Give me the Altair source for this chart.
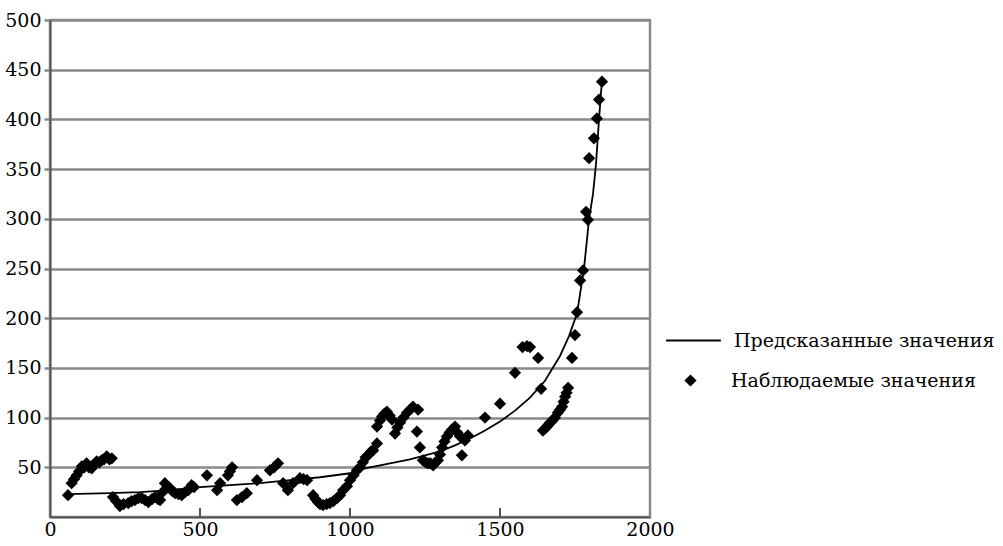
import altair as alt
import pandas as pd

# Observed values (year, value)
obs_year = [60,
    72, 80, 89, 97, 106, 114, 122, 130, 139, 147, 156, 164, 172, 180, 189, 198, 206,
    210, 220, 233, 245, 261, 272, 283, 295, 306, 317, 328, 340, 350, 360, 367, 375, 383, 392,
    400, 408, 417, 428, 439, 450, 461, 472, 480,
    523, 557, 567, 593, 600, 607, 623, 640, 656, 690, 733, 747, 760, 777, 793, 810, 833, 845,
    857, 877, 885, 893, 900, 910, 922, 933, 945, 957, 967, 977, 990, 1000, 1012, 1023, 1033,
    1043, 1052, 1060, 1070, 1077, 1090,
    1090, 1100, 1107, 1115, 1123, 1132, 1140, 1150, 1158, 1167, 1178, 1190, 1200, 1210, 1227,
    1223, 1233, 1243, 1252, 1260, 1268, 1277, 1285, 1293, 1300, 1307, 1315, 1323, 1332, 1340,
    1350, 1358, 1367, 1373, 1383, 1393, 1450, 1500,
    1550, 1575, 1590, 1600, 1627, 1637,
    1643, 1650, 1657, 1662, 1667, 1675, 1683, 1693, 1700, 1707, 1712, 1717, 1722, 1727,
    1740, 1750, 1757, 1767, 1777, 1787, 1793, 1797, 1813, 1823, 1830, 1840]
obs_value = [22,
    34, 38, 42, 46, 51, 50, 54, 50, 49, 53, 56, 55, 57, 58, 61, 58, 59,
    20, 16, 11, 13, 14, 16, 17, 19, 19, 17, 15, 18, 20, 18, 17, 25, 34, 30,
    29, 26, 24, 23, 22, 25, 27, 32, 30,
    42, 27, 34, 42, 46, 50, 17, 20, 24, 37, 47, 50, 54, 34, 27, 34, 39, 38,
    37, 22, 18, 15, 13, 12, 13, 14, 16, 19, 22, 27, 31, 37, 42, 47, 50,
    55, 60, 62, 66, 67, 74,
    91, 97, 101, 104, 106, 102, 98, 84, 90, 95, 100, 105, 108, 111, 108,
    86, 70, 57, 55, 54, 54, 52, 55, 57, 63, 70, 76, 81, 85, 88,
    91, 85, 81, 62, 77, 82, 100, 114,
    145, 171, 172, 171, 160, 129,
    87, 89, 91, 93, 95, 97, 100, 105, 108, 111, 116, 121, 125, 130,
    160, 183, 206, 238, 248, 307, 299, 361, 381, 401, 420, 438]

# Predicted values (year, value)
pred_year = [60, 200, 300, 400, 500, 600, 700, 800, 900, 1000, 1050, 1100, 1150, 1200, 1250,
             1300, 1350, 1400, 1450, 1500, 1550, 1600, 1650, 1700, 1730, 1757, 1780, 1797,
             1810, 1820, 1830, 1840]
pred_value = [23, 24, 25, 27, 30, 32, 34, 37, 40, 44, 49, 52, 55, 58, 62,
              66, 72, 79, 87, 96, 107, 120, 137, 162, 182, 205, 250, 300,
              325, 355, 400, 440]

x_ticks = [0, 500, 1000, 1500, 2000]
inner_ticks = [500, 1000, 1500]
y_ticks = [50, 100, 150, 200, 250, 300, 350, 400, 450, 500]

LINE_NAME = "Предсказанные значения"
OBS_NAME = "Наблюдаемые значения"
FONT = "DejaVu Serif"

obs = pd.DataFrame({"year": obs_year, "value": obs_value, "series": OBS_NAME})
pred = pd.DataFrame({"year": pred_year, "value": pred_value, "series": LINE_NAME})
ticks_df = pd.DataFrame({"year": inner_ticks})

xscale = alt.Scale(domain=[0, 2000], nice=False, zero=False)
yscale = alt.Scale(domain=[0, 500], nice=False)

x_enc = alt.X("year:Q", scale=xscale,
              axis=alt.Axis(values=x_ticks, grid=False, ticks=False, title=None, format="d",
                            labelFlush=False, labelPadding=3,
                            labelFont=FONT, labelFontSize=19, labelColor="black",
                            domainColor="#555555", domainWidth=2))
y_enc = alt.Y("value:Q", scale=yscale,
              axis=alt.Axis(values=y_ticks, grid=True, gridColor="#8a8a8a", gridWidth=2.5,
                            tickSize=6, tickColor="#8a8a8a", tickWidth=2.5, title=None,
                            format="d", labelPadding=3,
                            labelFont=FONT, labelFontSize=19, labelColor="black",
                            domainColor="#555555", domainWidth=2))

line = alt.Chart(pred).mark_line(color="black", strokeWidth=1.8).encode(
    x=x_enc, y=y_enc,
    color=alt.Color("series:N", scale=alt.Scale(range=["black"]),
                    legend=alt.Legend(orient="none", legendX=615, legendY=292, title=None,
                                      symbolType="stroke", symbolSize=3000, symbolStrokeWidth=2,
                                      symbolStrokeColor="black", padding=0, labelLimit=0,
                                      labelFont=FONT, labelFontSize=19, labelColor="black",
                                      labelOffset=12)))

points = alt.Chart(obs).mark_point(filled=True, size=150, color="black", opacity=1).encode(
    x=x_enc, y=y_enc,
    shape=alt.Shape("series:N", scale=alt.Scale(range=["diamond"]),
                    legend=alt.Legend(orient="none", legendX=631, legendY=351, title=None,
                                      symbolSize=150, symbolFillColor="black",
                                      symbolStrokeColor="black", padding=0, labelLimit=0,
                                      labelFont=FONT, labelFontSize=19, labelColor="black",
                                      labelOffset=31)))

tick_marks = alt.Chart(ticks_df).mark_rule(color="#555555", strokeWidth=2).encode(
    x=alt.X("year:Q", scale=xscale),
    y=alt.datum(0), y2=alt.datum(9))

chart = alt.layer(line, points, tick_marks).resolve_scale(
    color="independent", shape="independent"
).properties(
    width=600, height=497,
    autosize=alt.AutoSizeParams(type="none"),
    padding={"left": 50, "top": 20, "right": 353, "bottom": 29},
    background="white",
).configure_view(stroke="#8a8a8a", strokeWidth=2.5)

chart.save("out.html", embed_options={"renderer": "svg", "actions": False})
